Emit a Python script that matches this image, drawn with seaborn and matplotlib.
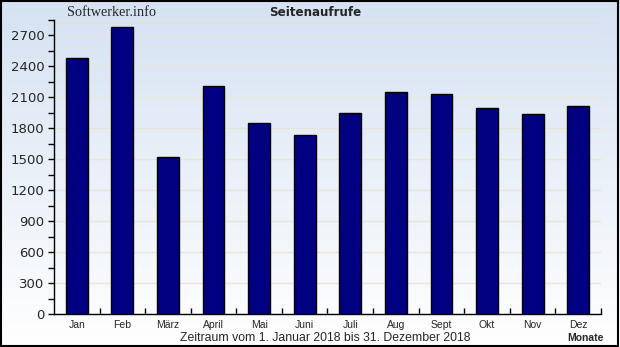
import numpy as np
import pandas as pd
import matplotlib
matplotlib.use("Agg")
import matplotlib.pyplot as plt
import seaborn as sns
from matplotlib.ticker import MultipleLocator, FixedLocator

months = ["Jan", "Feb", "März", "April", "Mai", "Juni", "Juli", "Aug", "Sept", "Okt", "Nov", "Dez"]
views = [2480, 2780, 1525, 2215, 1855, 1740, 1945, 2155, 2130, 2000, 1935, 2020]
yticks = [0, 300, 600, 900, 1200, 1500, 1800, 2100, 2400, 2700]

sns.set_theme(style="white")
plt.rcParams['font.family'] = ['DejaVu Sans']

fig = plt.figure(figsize=(6.2, 3.47), dpi=100)

# background gradient
bg = fig.add_axes([0, 0, 1, 1], zorder=-10)
grad = np.linspace(0, 1, 256).reshape(-1, 1)
top = np.array([0.835, 0.886, 0.949])
bot = np.array([1.0, 1.0, 1.0])
img = top[None, None, :] * (1 - grad[:, :, None]) + bot[None, None, :] * grad[:, :, None]
bg.imshow(img, aspect="auto", extent=[0, 1, 0, 1])
bg.set_axis_off()
fig.patches.append(plt.Rectangle((0.0015, 0.002), 0.996, 0.995, transform=fig.transFigure,
                                 fill=False, edgecolor="black", linewidth=1.5, zorder=100))

ax = fig.add_axes([54/620, 1-314/347, (601-54)/620, (314-20)/347])
ax.patch.set_alpha(0)
df = pd.DataFrame({"Monat": months, "Aufrufe": views})
sns.barplot(data=df, x="Monat", y="Aufrufe", color="#000080", edgecolor="black",
            linewidth=1, width=0.48, saturation=1, ax=ax, zorder=3)

ax.set_xlim(-0.5, 11.5)
ax.set_ylim(0, 2850)
ax.yaxis.set_major_locator(FixedLocator(yticks))
ax.yaxis.set_minor_locator(MultipleLocator(150))
ax.yaxis.grid(True, which="major", color="#e8e4da", linewidth=1, zorder=0)
ax.axhline(2850, color="#e8e4da", linewidth=1, zorder=0)
ax.set_axisbelow(True)
for s in ["top", "right"]:
    ax.spines[s].set_visible(False)
for s in ["left", "bottom"]:
    ax.spines[s].set_color("black")
    ax.spines[s].set_linewidth(1)

ax.tick_params(axis="y", which="both", direction="out", length=4, width=1, color="black",
               left=True, labelsize=9.5, pad=3)
ax.tick_params(axis="x", which="major", length=0, labelsize=7.5, pad=4)
ax.xaxis.set_minor_locator(FixedLocator(np.arange(0.5, 12, 1)))
ax.tick_params(axis="x", which="minor", direction="in", length=4, width=1, color="black", bottom=True)
for lab in ax.get_xticklabels():
    lab.set_family("Liberation Sans")
ax.set_xlabel("")
ax.set_ylabel("")

fig.text(0.524, 1-338/347, "Zeitraum vom 1. Januar 2018 bis 31. Dezember 2018",
         ha="center", va="center", fontsize=8.8, family="Liberation Sans")
fig.text(585/620, 1-338/347, "Monate", ha="center", va="center", fontsize=7.5,
         family="Liberation Sans", weight="bold")
fig.text(112/620, 1-12/347, "Softwerker.info", ha="center", va="center", fontsize=10.3,
         family="Liberation Serif")
fig.text(315/620, 1-12/347, "Seitenaufrufe", ha="center", va="center", fontsize=8.6,
         weight="bold")

fig.savefig("out.png", dpi=100)
